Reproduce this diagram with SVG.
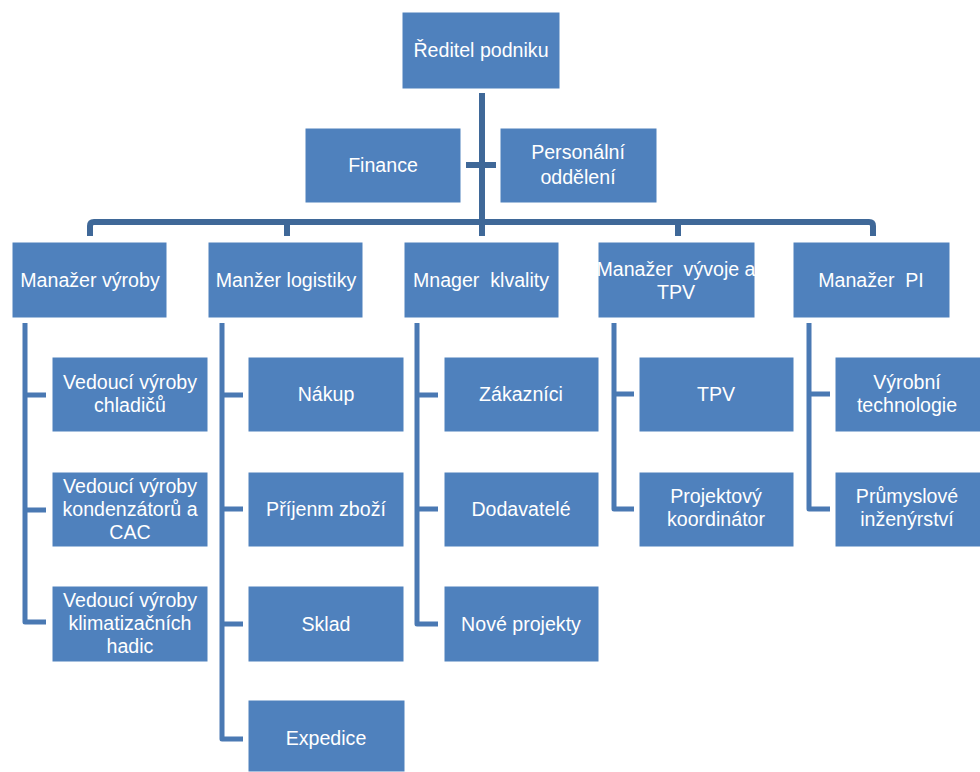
<svg xmlns="http://www.w3.org/2000/svg" width="980" height="772" viewBox="0 0 980 772">
<style>
.box{fill:#4F81BD;stroke:#ffffff;stroke-width:1}
.t{fill:#ffffff;font-family:"Liberation Sans",Arial,sans-serif;font-size:19.6px;text-anchor:middle;white-space:pre}
.main{fill:none;stroke:#3F6898;stroke-width:6;stroke-linejoin:round}
.sub{fill:none;stroke:#4A79B3;stroke-width:5;stroke-linejoin:round}
</style>
<rect width="980" height="772" fill="#ffffff"/>
<g id="connectors">
<path class="main" d="M482,93 V236"/>
<path class="main" d="M466,165 H496"/>
<path class="main" d="M90,236 V226 Q90,222 94,222 H869 Q873,222 873,226 V236"/>
<path class="main" d="M287,222 V236 M678,222 V236"/>
<path class="sub" d="M25,323 V622 H46 M25,395 H46 M25,510 H46"/>
<path class="sub" d="M222,323 V739 H243 M222,395 H243 M222,509 H243 M222,624 H243"/>
<path class="sub" d="M417,323 V624 H438 M417,395 H438 M417,509 H438"/>
<path class="sub" d="M614,323 V509 H634 M614,394 H634"/>
<path class="sub" d="M809,323 V509 H830 M809,394 H830"/>
</g>
<g id="reditel"><rect class="box" x="402" y="12" width="158" height="77"/><text class="t" x="481" y="57">Ředitel podniku</text></g>
<g id="finance"><rect class="box" x="305" y="128" width="156" height="75"/><text class="t" x="383" y="172">Finance</text></g>
<g id="personalni"><rect class="box" x="500" y="128" width="157" height="75"/><text class="t" x="578" y="159">Personální</text><text class="t" x="578" y="184">oddělení</text></g>
<g id="m-vyroby"><rect class="box" x="12" y="242" width="155" height="76"/><text class="t" x="90" y="287">Manažer výroby</text></g>
<g id="m-logistiky"><rect class="box" x="208" y="242" width="155" height="76"/><text class="t" x="286" y="287">Manžer logistiky</text></g>
<g id="m-kvality"><rect class="box" x="404" y="242" width="155" height="76"/><text class="t" x="481" y="287">Mnager  klvality</text></g>
<g id="m-vyvoje"><rect class="box" x="598" y="242" width="157" height="76"/><text class="t" x="676" y="276">Manažer  vývoje a</text><text class="t" x="676" y="299">TPV</text></g>
<g id="m-pi"><rect class="box" x="793" y="242" width="157" height="76"/><text class="t" x="871" y="287">Manažer  PI</text></g>
<g id="chladicu"><rect class="box" x="52" y="357" width="156" height="75"/><text class="t" x="130" y="389">Vedoucí výroby</text><text class="t" x="130" y="412">chladičů</text></g>
<g id="kondenzatoru"><rect class="box" x="52" y="472" width="156" height="75"/><text class="t" x="130" y="493">Vedoucí výroby</text><text class="t" x="130" y="516">kondenzátorů a</text><text class="t" x="130" y="539">CAC</text></g>
<g id="hadic"><rect class="box" x="52" y="586" width="156" height="76"/><text class="t" x="130" y="607">Vedoucí výroby</text><text class="t" x="130" y="630">klimatizačních</text><text class="t" x="130" y="653">hadic</text></g>
<g id="nakup"><rect class="box" x="248" y="357" width="156" height="75"/><text class="t" x="326" y="401">Nákup</text></g>
<g id="prijem"><rect class="box" x="248" y="472" width="156" height="75"/><text class="t" x="326" y="516">Příjenm zboží</text></g>
<g id="sklad"><rect class="box" x="248" y="586" width="156" height="76"/><text class="t" x="326" y="631">Sklad</text></g>
<g id="expedice"><rect class="box" x="248" y="700" width="157" height="72"/><text class="t" x="326" y="745">Expedice</text></g>
<g id="zakaznici"><rect class="box" x="444" y="357" width="155" height="75"/><text class="t" x="521" y="401">Zákazníci</text></g>
<g id="dodavatele"><rect class="box" x="444" y="472" width="155" height="75"/><text class="t" x="521" y="516">Dodavatelé</text></g>
<g id="nove"><rect class="box" x="444" y="586" width="155" height="76"/><text class="t" x="521" y="631">Nové projekty</text></g>
<g id="tpv"><rect class="box" x="639" y="357" width="155" height="75"/><text class="t" x="716" y="401">TPV</text></g>
<g id="projektovy"><rect class="box" x="639" y="472" width="155" height="75"/><text class="t" x="716" y="503">Projektový</text><text class="t" x="716" y="526">koordinátor</text></g>
<g id="vyrobni"><rect class="box" x="835" y="357" width="150" height="75"/><text class="t" x="907" y="389">Výrobní</text><text class="t" x="907" y="412">technologie</text></g>
<g id="prumyslove"><rect class="box" x="835" y="472" width="150" height="75"/><text class="t" x="907" y="503">Průmyslové</text><text class="t" x="907" y="526">inženýrství</text></g>
</svg>
